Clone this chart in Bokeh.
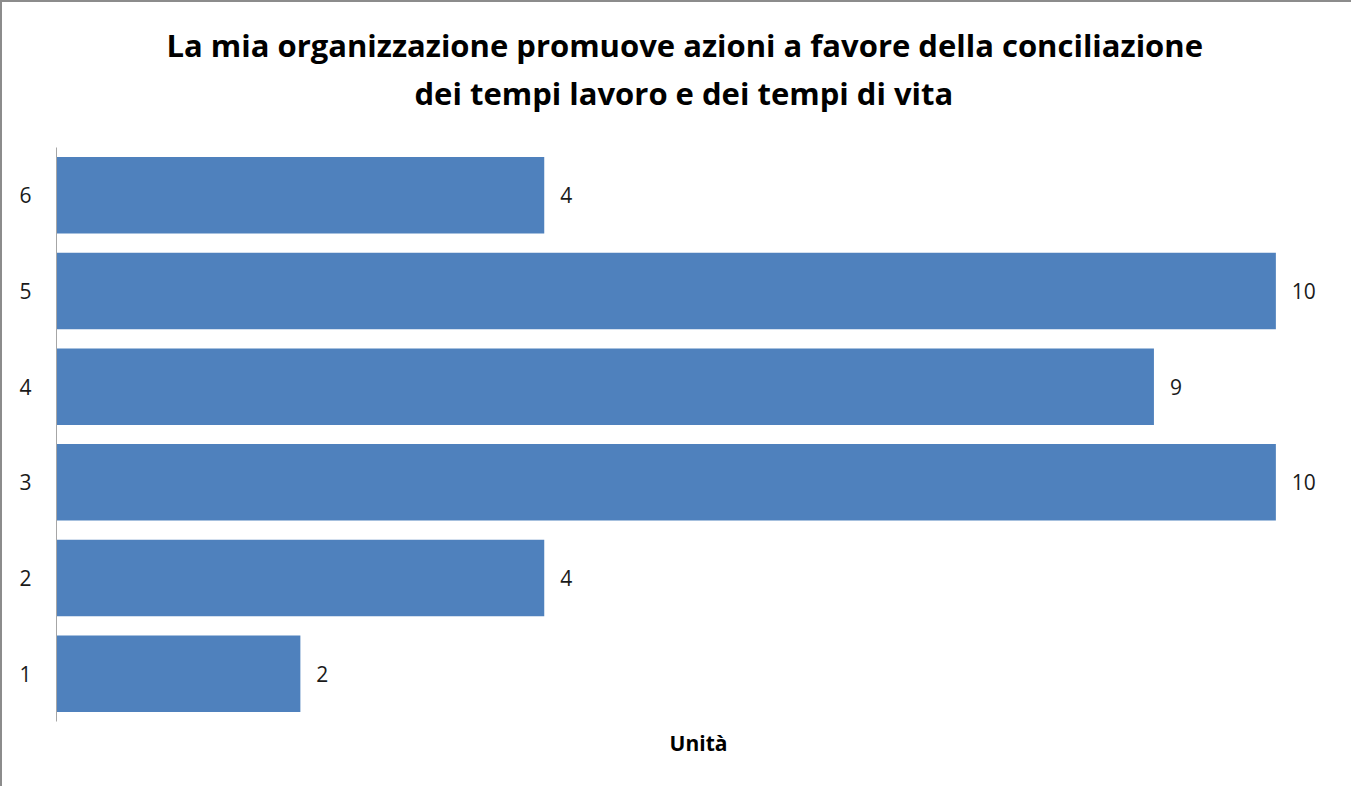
from bokeh.plotting import figure
from bokeh.models import ColumnDataSource, LabelSet, Title, FixedTicker, Range1d, FactorRange
from bokeh.core.properties import value
from bokeh.embed import file_html
from bokeh.resources import INLINE

categories = ["1", "2", "3", "4", "5", "6"]
values = [2, 4, 10, 9, 10, 4]
title_lines = ["La mia organizzazione promuove azioni a favore della conciliazione",
               "dei tempi lavoro e dei tempi di vita"]
x_label = "Unità"

src = ColumnDataSource(dict(cat=categories, val=values, lab=[str(v) for v in values]))

p = figure(width=1351, height=786, y_range=FactorRange(*categories),
           x_range=Range1d(0, 10.53), output_backend="svg", toolbar_location=None,
           title=None, min_border_left=54, min_border_right=13, min_border_bottom=67,
           min_border_top=145)
p.y_range.range_padding = 0
p.y_range.factor_padding = 0

p.hbar(y="cat", right="val", left=0, height=0.8, source=src, color="#4F81BD", line_color=None)

labels = LabelSet(x="val", y="cat", text="lab", source=src, x_offset=16,
                  text_align="left", text_baseline="middle", text_font=value("Open Sans"),
                  text_font_size="21px", text_color="#1A1A1A")
p.add_layout(labels)

# spacer between the frame and the title block
p.add_layout(Title(text=" ", text_font_size="10px", standoff=21), "above")
# title lines (nearest first); left-aligned with offsets so the block is centred like the original
p.add_layout(Title(text=title_lines[1], align="left", offset=358, text_font="Open Sans",
                   text_font_size="31px", text_font_style="bold", text_color="#000000",
                   standoff=0), "above")
p.add_layout(Title(text=title_lines[0], align="left", offset=110, text_font="Open Sans",
                   text_font_size="31px", text_font_style="bold", text_color="#000000",
                   standoff=7), "above")

p.xgrid.visible = False
p.ygrid.visible = False
p.outline_line_color = None

p.xaxis.ticker = FixedTicker(ticks=[])
p.xaxis.axis_line_color = None
p.xaxis.major_tick_line_color = None
p.xaxis.minor_tick_line_color = None
p.xaxis.axis_label = x_label
p.xaxis.axis_label_text_font = "Open Sans"
p.xaxis.axis_label_text_font_size = "21px"
p.xaxis.axis_label_text_font_style = "bold"
p.xaxis.axis_label_text_color = "#000000"
p.xaxis.axis_label_standoff = 7

p.yaxis.axis_line_color = "#A6A6A6"
p.yaxis.major_tick_line_color = None
p.yaxis.minor_tick_line_color = None
p.yaxis.major_label_text_font = "Open Sans"
p.yaxis.major_label_text_font_size = "21px"
p.yaxis.major_label_text_color = "#1A1A1A"
p.yaxis.major_label_standoff = 19

p.styles = {"border-left": "2px solid #8C8C8C", "border-top": "2px solid #8C8C8C"}

open("out.html", "w").write(file_html(p, INLINE))
